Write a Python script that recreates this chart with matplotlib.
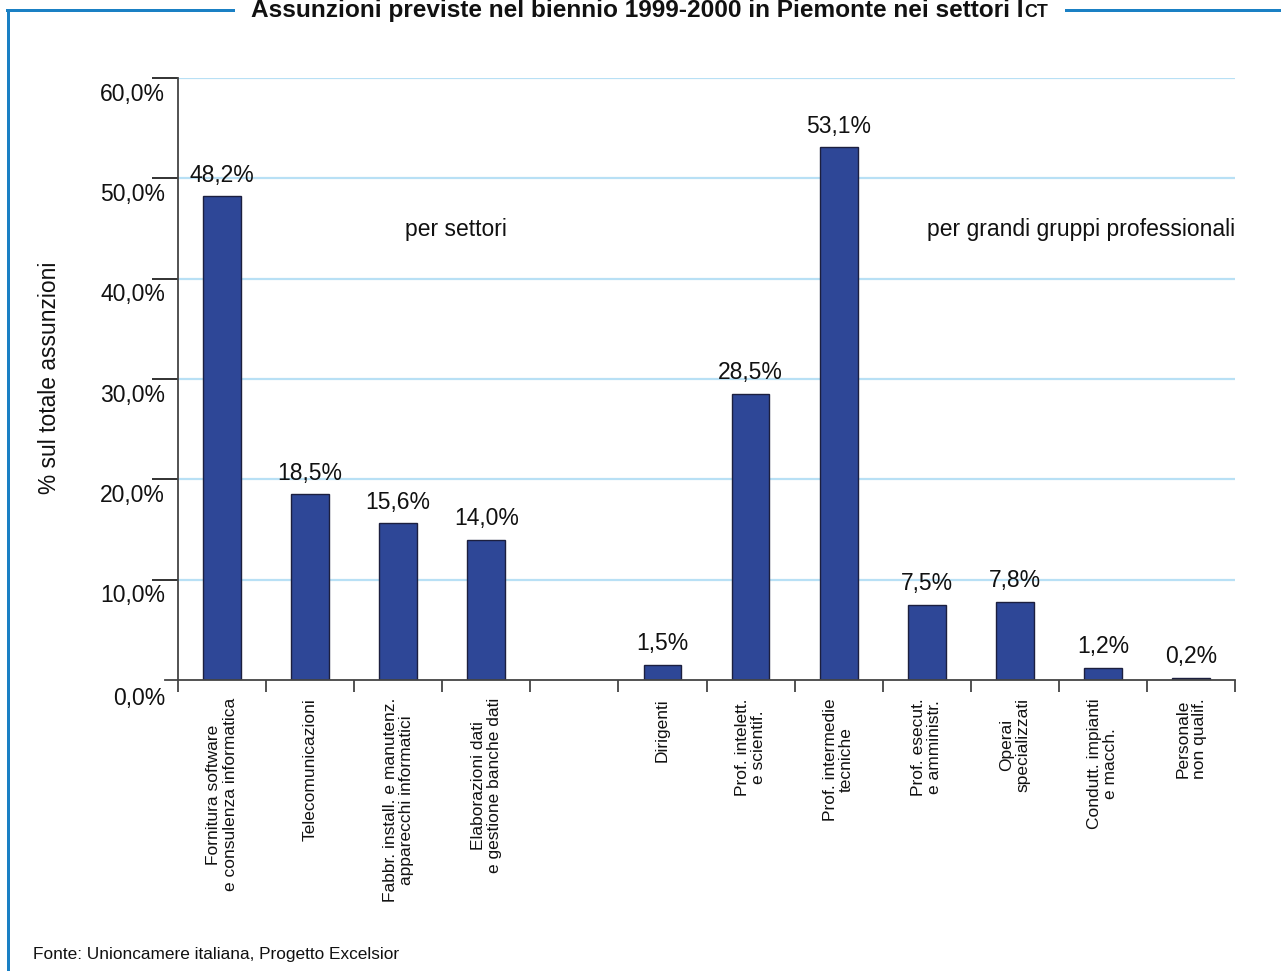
import matplotlib
matplotlib.use("Agg")
import matplotlib.pyplot as plt
from matplotlib.lines import Line2D
from matplotlib.transforms import offset_copy

plt.rcParams['font.family'] = ['Liberation Sans', 'DejaVu Sans']

# --- data -------------------------------------------------------------
categories = [
    "Fornitura software\ne consulenza informatica",
    "Telecomunicazioni",
    "Fabbr. install. e manutenz.\napparecchi informatici",
    "Elaborazioni dati\ne gestione banche dati",
    "",
    "Dirigenti",
    "Prof. intelett.\ne scientif.",
    "Prof. intermedie\ntecniche",
    "Prof. esecut.\ne amministr.",
    "Operai\nspecializzati",
    "Condutt. impianti\ne macch.",
    "Personale\nnon qualif.",
]
values = [48.2, 18.5, 15.6, 14.0, None, 1.5, 28.5, 53.1, 7.5, 7.8, 1.2, 0.2]
y_ticks = [0, 10, 20, 30, 40, 50, 60]
y_tick_labels = ["0,0%", "10,0%", "20,0%", "30,0%", "40,0%", "50,0%", "60,0%"]
group_labels = ["per settori", "per grandi gruppi professionali"]

title_main = "Assunzioni previste nel biennio 1999-2000 in Piemonte nei settori I"
title_caps = "CT"
y_label = "% sul totale assunzioni"
source = "Fonte: Unioncamere italiana, Progetto Excelsior"

# --- style ------------------------------------------------------------
W, H = 1281, 971
BAR = "#2e4797"
EDGE = "#1c1f3f"
GRID = "#b8e0f5"
FRAME = "#1a80c4"
AXIS = "#444444"
TXT = "#111111"
PX = 72 / 100  # points per pixel at dpi=100

fig = plt.figure(figsize=(W / 100, H / 100), dpi=100)
ax = fig.add_axes([178 / W, 1 - 680 / H, (1235 - 178) / W, (680 - 78) / H])

n = len(categories)
xs = [i + 0.5 for i in range(n)]
for x, v in zip(xs, values):
    if v is None:
        continue
    ax.bar(x, v, width=0.43, color=BAR, edgecolor=EDGE, linewidth=1.0, zorder=3)
    lbl = f"{v:.1f}".replace(".", ",") + "%"
    ax.annotate(lbl, (x, v), xytext=(0, 7), textcoords="offset points",
                ha="center", va="bottom", fontsize=16.5, color=TXT)

ax.set_xlim(0, n)
ax.set_ylim(0, 60)

# gridlines
for t in y_ticks[1:]:
    ax.axhline(t, color=GRID, lw=1.6, zorder=1)

for s in ["top", "right"]:
    ax.spines[s].set_visible(False)
for s in ["left", "bottom"]:
    ax.spines[s].set_color(AXIS)
    ax.spines[s].set_linewidth(1.3)
    ax.spines[s].set_zorder(4)

# y ticks: long outward marks, labels drawn below each line
ax.set_yticks(y_ticks[1:])
ax.set_yticklabels([])
ax.tick_params(axis="y", length=26 * PX, width=1.3, color="#222222", direction="out")
ytr = offset_copy(ax.get_yaxis_transform(), fig=fig, x=-13 * PX, y=-16 * PX, units="points")
for t, lab in zip(y_ticks, y_tick_labels):
    dy = -2 * PX if t == 0 else 0
    ax.text(0, t, lab, transform=offset_copy(ytr, fig=fig, y=dy, units="points"),
            ha="right", va="center", fontsize=16.5, color=TXT)

# short left extension of the baseline
ax.add_line(Line2D([-13 / (1235 - 178), 0], [0, 0], transform=ax.get_yaxis_transform(),
                   color=AXIS, lw=1.3, clip_on=False, zorder=4))

# x ticks at slot boundaries, labels centred in slots
ax.set_xticks(range(n + 1))
ax.set_xticklabels([])
ax.tick_params(axis="x", length=12 * PX, width=1.3, color=AXIS, direction="out")
xtr = offset_copy(ax.get_xaxis_transform(), fig=fig, y=-18 * PX, units="points")
for x, lab in zip(xs, categories):
    if not lab:
        continue
    ax.text(x, 0, lab, transform=xtr, rotation=90, ha="center", va="top",
            multialignment="center", fontsize=12.5, linespacing=1.1, color=TXT)

# group captions
ax.text(3.16, 44.9, group_labels[0], ha="center", va="center", fontsize=16.5, color=TXT)
ax.text(12, 44.9, group_labels[1], ha="right", va="center", fontsize=16.5, color=TXT)

# axis title
fig.text(50 / W, 1 - 378 / H, y_label, rotation=90, ha="center", va="center",
         fontsize=16.4, color=TXT)

# frame
LW = 3 * PX
fig.add_artist(Line2D([8 / W, 8 / W], [0, 1 - 10 / H], color=FRAME, lw=LW))
fig.add_artist(Line2D([6.8 / W, 233 / W], [1 - 10 / H, 1 - 10 / H], color=FRAME, lw=LW))
fig.add_artist(Line2D([1066 / W, 1], [1 - 10 / H, 1 - 10 / H], color=FRAME, lw=LW))

# title with small-caps acronym
t1 = fig.text(251 / W, 1 - 17 / H, title_main, ha="left", va="baseline",
              fontsize=17.6, fontweight="bold", color=TXT)
renderer = fig.canvas.get_renderer()
bb = t1.get_window_extent(renderer=renderer)
fig.text(bb.x1 / W + 1.0 / W, 1 - 17 / H, title_caps, ha="left", va="baseline",
         fontsize=12.8, fontweight="bold", color=TXT)

# source
fig.text(33 / W, 1 - 954 / H, source, ha="left", va="center", fontsize=12.4, color=TXT)

fig.savefig("out.png", dpi=100)
